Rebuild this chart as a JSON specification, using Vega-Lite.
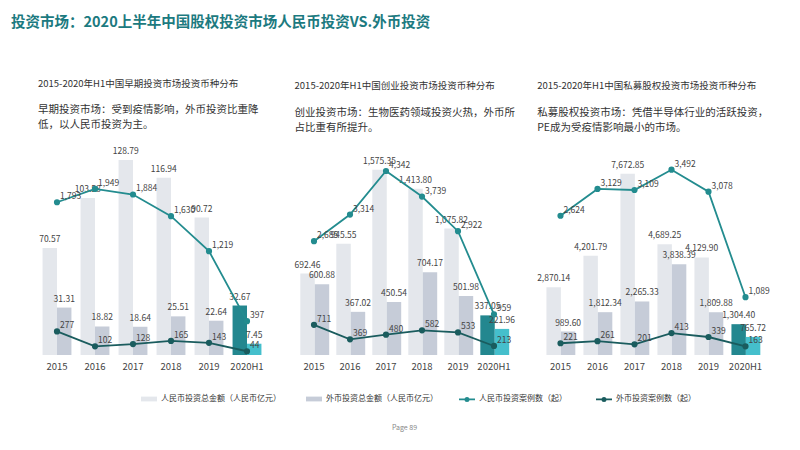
{
  "$schema": "https://vega.github.io/schema/vega-lite/v6.json",
  "padding": {"left": 11, "top": 15, "right": 5, "bottom": 5},
  "bounds": "flush",
  "spacing": 30,
  "title": {
    "text": "投资市场：2020上半年中国股权投资市场人民币投资VS.外币投资",
    "anchor": "start",
    "frame": "group",
    "fontSize": 14.5,
    "fontWeight": "bold",
    "color": "#1c7a80",
    "dx": -27,
    "offset": 48
  },
  "data": {
    "values": [
      {"panel": "早期", "year": "2015", "cur": "人民币", "amount": 70.57, "count": 1793},
      {"panel": "早期", "year": "2015", "cur": "外币", "amount": 31.31, "count": 277},
      {"panel": "早期", "year": "2016", "cur": "人民币", "amount": 103.58, "count": 1949},
      {"panel": "早期", "year": "2016", "cur": "外币", "amount": 18.82, "count": 102},
      {"panel": "早期", "year": "2017", "cur": "人民币", "amount": 128.79, "count": 1884},
      {"panel": "早期", "year": "2017", "cur": "外币", "amount": 18.64, "count": 128},
      {"panel": "早期", "year": "2018", "cur": "人民币", "amount": 116.94, "count": 1630},
      {"panel": "早期", "year": "2018", "cur": "外币", "amount": 25.51, "count": 165},
      {"panel": "早期", "year": "2019", "cur": "人民币", "amount": 90.72, "count": 1219},
      {"panel": "早期", "year": "2019", "cur": "外币", "amount": 22.64, "count": 143},
      {"panel": "早期", "year": "2020H1", "cur": "人民币", "amount": 32.67, "count": 397},
      {"panel": "早期", "year": "2020H1", "cur": "外币", "amount": 7.45, "count": 44},
      {"panel": "创业", "year": "2015", "cur": "人民币", "amount": 692.46, "count": 2685},
      {"panel": "创业", "year": "2015", "cur": "外币", "amount": 600.88, "count": 711},
      {"panel": "创业", "year": "2016", "cur": "人民币", "amount": 945.55, "count": 3314},
      {"panel": "创业", "year": "2016", "cur": "外币", "amount": 367.02, "count": 369},
      {"panel": "创业", "year": "2017", "cur": "人民币", "amount": 1575.35, "count": 4342},
      {"panel": "创业", "year": "2017", "cur": "外币", "amount": 450.54, "count": 480},
      {"panel": "创业", "year": "2018", "cur": "人民币", "amount": 1413.80, "count": 3739},
      {"panel": "创业", "year": "2018", "cur": "外币", "amount": 704.17, "count": 582},
      {"panel": "创业", "year": "2019", "cur": "人民币", "amount": 1075.82, "count": 2922},
      {"panel": "创业", "year": "2019", "cur": "外币", "amount": 501.98, "count": 533},
      {"panel": "创业", "year": "2020H1", "cur": "人民币", "amount": 337.05, "count": 959},
      {"panel": "创业", "year": "2020H1", "cur": "外币", "amount": 221.96, "count": 213},
      {"panel": "私募股权", "year": "2015", "cur": "人民币", "amount": 2870.14, "count": 2624},
      {"panel": "私募股权", "year": "2015", "cur": "外币", "amount": 989.60, "count": 221},
      {"panel": "私募股权", "year": "2016", "cur": "人民币", "amount": 4201.79, "count": 3129},
      {"panel": "私募股权", "year": "2016", "cur": "外币", "amount": 1812.34, "count": 261},
      {"panel": "私募股权", "year": "2017", "cur": "人民币", "amount": 7672.85, "count": 3109},
      {"panel": "私募股权", "year": "2017", "cur": "外币", "amount": 2265.33, "count": 201},
      {"panel": "私募股权", "year": "2018", "cur": "人民币", "amount": 4689.25, "count": 3492},
      {"panel": "私募股权", "year": "2018", "cur": "外币", "amount": 3838.39, "count": 413},
      {"panel": "私募股权", "year": "2019", "cur": "人民币", "amount": 4129.90, "count": 3078},
      {"panel": "私募股权", "year": "2019", "cur": "外币", "amount": 1809.88, "count": 339},
      {"panel": "私募股权", "year": "2020H1", "cur": "人民币", "amount": 1304.40, "count": 1089},
      {"panel": "私募股权", "year": "2020H1", "cur": "外币", "amount": 765.72, "count": 163}
    ]
  },
  "transform": [
    {"calculate": "datum.cur + '投资总金额（人民币亿元）'", "as": "bar"},
    {"calculate": "datum.cur + '投资案例数（起）'", "as": "line"}
  ],
  "hconcat": [
    {
      "width": 228,
      "height": 206,
      "transform": [{"filter": "datum.panel === '早期'"}],
      "title": {
        "text": "2015-2020年H1中国早期投资市场投资币种分布",
        "subtitle": ["早期投资市场：受到疫情影响，外币投资比重降", "低，以人民币投资为主。"]
      },
      "encoding": {
        "x": {"field": "year", "type": "nominal", "scale": {"paddingInner": 0.24, "paddingOuter": 0.12}, "axis": {"title": null}}
      },
      "layer": [
        {
          "mark": {"type": "bar"},
          "encoding": {
            "xOffset": {"field": "cur", "type": "nominal", "sort": ["人民币", "外币"]},
            "y": {"field": "amount", "type": "quantitative", "scale": {"domain": [0, 136], "nice": false}, "axis": null},
            "fill": {
              "field": "bar", "type": "nominal",
              "scale": {"domain": ["人民币投资总金额（人民币亿元）", "外币投资总金额（人民币亿元）"], "range": ["#e4e7ec", "#c6ccd8"]},
              "legend": {"orient": "none", "legendX": 102, "legendY": 241, "direction": "horizontal", "title": null, "symbolType": "M-1,-0.3H1V0.3H-1Z", "symbolSize": 256, "columnPadding": 24},
              "condition": [
                {"test": "datum.year === '2020H1' && datum.cur === '人民币'", "value": "#23878f"},
                {"test": "datum.year === '2020H1' && datum.cur === '外币'", "value": "#45bfcc"}
              ]
            }
          }
        },
        {
          "mark": {"type": "text", "baseline": "bottom", "dy": -4, "fontSize": 8.5, "color": "#444"},
          "encoding": {
            "xOffset": {"field": "cur", "type": "nominal", "sort": ["人民币", "外币"]},
            "y": {"field": "amount", "type": "quantitative", "scale": {"domain": [0, 136], "nice": false}, "axis": null},
            "text": {"field": "amount", "type": "quantitative", "format": ",.2f"}
          }
        },
        {
          "mark": {"type": "line", "strokeWidth": 1.8},
          "encoding": {
            "y": {"field": "count", "type": "quantitative", "scale": {"domain": [0, 2418], "nice": false}, "axis": null},
            "stroke": {
              "field": "line", "type": "nominal",
              "scale": {"domain": ["人民币投资案例数（起）", "外币投资案例数（起）"], "range": ["#238c8f", "#1a5c5e"]},
              "legend": {"orient": "none", "legendX": 420, "legendY": 241, "direction": "horizontal", "title": null, "symbolType": "M-1,0H1M-0.2,0A0.2,0.2 0 1 1 0.2,0A0.2,0.2 0 1 1 -0.2,0Z", "symbolSize": 256, "symbolStrokeWidth": 1.8, "columnPadding": 25}
            }
          }
        },
        {
          "mark": {"type": "point", "filled": false, "size": 9, "strokeWidth": 3.2, "opacity": 1},
          "encoding": {
            "y": {"field": "count", "type": "quantitative", "scale": {"domain": [0, 2418], "nice": false}, "axis": null},
            "stroke": {"field": "line", "type": "nominal"}
          }
        },
        {
          "mark": {"type": "text", "align": "left", "dx": 3, "dy": -6, "fontSize": 8.5, "color": "#444"},
          "encoding": {
            "y": {"field": "count", "type": "quantitative", "scale": {"domain": [0, 2418], "nice": false}, "axis": null},
            "text": {"field": "count", "type": "quantitative", "format": ","}
          }
        }
      ],
      "resolve": {"scale": {"y": "independent"}}
    },
    {
      "width": 216,
      "height": 206,
      "transform": [{"filter": "datum.panel === '创业'"}],
      "title": {
        "text": "2015-2020年H1中国创业投资市场投资币种分布",
        "subtitle": ["创业投资市场：生物医药领域投资火热，外币所", "占比重有所提升。"]
      },
      "encoding": {
        "x": {"field": "year", "type": "nominal", "scale": {"paddingInner": 0.24, "paddingOuter": 0.12}, "axis": {"title": "Page  89", "titlePadding": 53, "titleFontSize": 7, "titleColor": "#888", "titleFontWeight": "normal"}}
      },
      "layer": [
        {
          "mark": {"type": "bar"},
          "encoding": {
            "xOffset": {"field": "cur", "type": "nominal", "sort": ["人民币", "外币"]},
            "y": {"field": "amount", "type": "quantitative", "scale": {"domain": [0, 1752], "nice": false}, "axis": null},
            "fill": {
              "field": "bar", "type": "nominal",
              "legend": {"orient": "none", "legendX": 102, "legendY": 241, "direction": "horizontal", "title": null, "symbolType": "M-1,-0.3H1V0.3H-1Z", "symbolSize": 256, "columnPadding": 24},
              "condition": [
                {"test": "datum.year === '2020H1' && datum.cur === '人民币'", "value": "#23878f"},
                {"test": "datum.year === '2020H1' && datum.cur === '外币'", "value": "#45bfcc"}
              ]
            }
          }
        },
        {
          "mark": {"type": "text", "baseline": "bottom", "dy": -4, "fontSize": 8.5, "color": "#444"},
          "encoding": {
            "xOffset": {"field": "cur", "type": "nominal", "sort": ["人民币", "外币"]},
            "y": {"field": "amount", "type": "quantitative", "scale": {"domain": [0, 1752], "nice": false}, "axis": null},
            "text": {"field": "amount", "type": "quantitative", "format": ",.2f"}
          }
        },
        {
          "mark": {"type": "line", "strokeWidth": 1.8},
          "encoding": {
            "y": {"field": "count", "type": "quantitative", "scale": {"domain": [0, 4861], "nice": false}, "axis": null},
            "stroke": {"field": "line", "type": "nominal"}
          }
        },
        {
          "mark": {"type": "point", "filled": false, "size": 9, "strokeWidth": 3.2, "opacity": 1},
          "encoding": {
            "y": {"field": "count", "type": "quantitative", "scale": {"domain": [0, 4861], "nice": false}, "axis": null},
            "stroke": {"field": "line", "type": "nominal"}
          }
        },
        {
          "mark": {"type": "text", "align": "left", "dx": 3, "dy": -6, "fontSize": 8.5, "color": "#444"},
          "encoding": {
            "y": {"field": "count", "type": "quantitative", "scale": {"domain": [0, 4861], "nice": false}, "axis": null},
            "text": {"field": "count", "type": "quantitative", "format": ","}
          }
        }
      ],
      "resolve": {"scale": {"y": "independent"}}
    },
    {
      "width": 222,
      "height": 206,
      "transform": [{"filter": "datum.panel === '私募股权'"}],
      "title": {
        "text": "2015-2020年H1中国私募股权投资市场投资币种分布",
        "subtitle": ["私募股权投资市场：凭借半导体行业的活跃投资，", "PE成为受疫情影响最小的市场。"]
      },
      "encoding": {
        "x": {"field": "year", "type": "nominal", "scale": {"paddingInner": 0.24, "paddingOuter": 0.12}, "axis": {"title": null}}
      },
      "layer": [
        {
          "mark": {"type": "bar"},
          "encoding": {
            "xOffset": {"field": "cur", "type": "nominal", "sort": ["人民币", "外币"]},
            "y": {"field": "amount", "type": "quantitative", "scale": {"domain": [0, 8718], "nice": false}, "axis": null},
            "fill": {
              "field": "bar", "type": "nominal",
              "legend": {"orient": "none", "legendX": 102, "legendY": 241, "direction": "horizontal", "title": null, "symbolType": "M-1,-0.3H1V0.3H-1Z", "symbolSize": 256, "columnPadding": 24},
              "condition": [
                {"test": "datum.year === '2020H1' && datum.cur === '人民币'", "value": "#23878f"},
                {"test": "datum.year === '2020H1' && datum.cur === '外币'", "value": "#45bfcc"}
              ]
            }
          }
        },
        {
          "mark": {"type": "text", "baseline": "bottom", "dy": -4, "fontSize": 8.5, "color": "#444"},
          "encoding": {
            "xOffset": {"field": "cur", "type": "nominal", "sort": ["人民币", "外币"]},
            "y": {"field": "amount", "type": "quantitative", "scale": {"domain": [0, 8718], "nice": false}, "axis": null},
            "text": {"field": "amount", "type": "quantitative", "format": ",.2f"}
          }
        },
        {
          "mark": {"type": "line", "strokeWidth": 1.8},
          "encoding": {
            "y": {"field": "count", "type": "quantitative", "scale": {"domain": [0, 3882], "nice": false}, "axis": null},
            "stroke": {"field": "line", "type": "nominal"}
          }
        },
        {
          "mark": {"type": "point", "filled": false, "size": 9, "strokeWidth": 3.2, "opacity": 1},
          "encoding": {
            "y": {"field": "count", "type": "quantitative", "scale": {"domain": [0, 3882], "nice": false}, "axis": null},
            "stroke": {"field": "line", "type": "nominal"}
          }
        },
        {
          "mark": {"type": "text", "align": "left", "dx": 3, "dy": -6, "fontSize": 8.5, "color": "#444"},
          "encoding": {
            "y": {"field": "count", "type": "quantitative", "scale": {"domain": [0, 3882], "nice": false}, "axis": null},
            "text": {"field": "count", "type": "quantitative", "format": ","}
          }
        }
      ],
      "resolve": {"scale": {"y": "independent"}}
    }
  ],
  "config": {
    "font": "Noto Sans CJK SC",
    "view": {"stroke": null},
    "axisX": {"labelAngle": 0, "domain": false, "ticks": false, "labelFontSize": 9.5, "labelColor": "#444", "labelPadding": 6},
    "title": {
      "anchor": "start",
      "fontSize": 9.5,
      "fontWeight": "normal",
      "color": "#333",
      "subtitleFontSize": 10.5,
      "subtitleColor": "#333",
      "subtitlePadding": 17,
      "subtitleLineHeight": 15,
      "offset": 16
    },
    "legend": {"labelFontSize": 8, "labelColor": "#333", "labelLimit": 250, "labelOffset": 3}
  }
}
